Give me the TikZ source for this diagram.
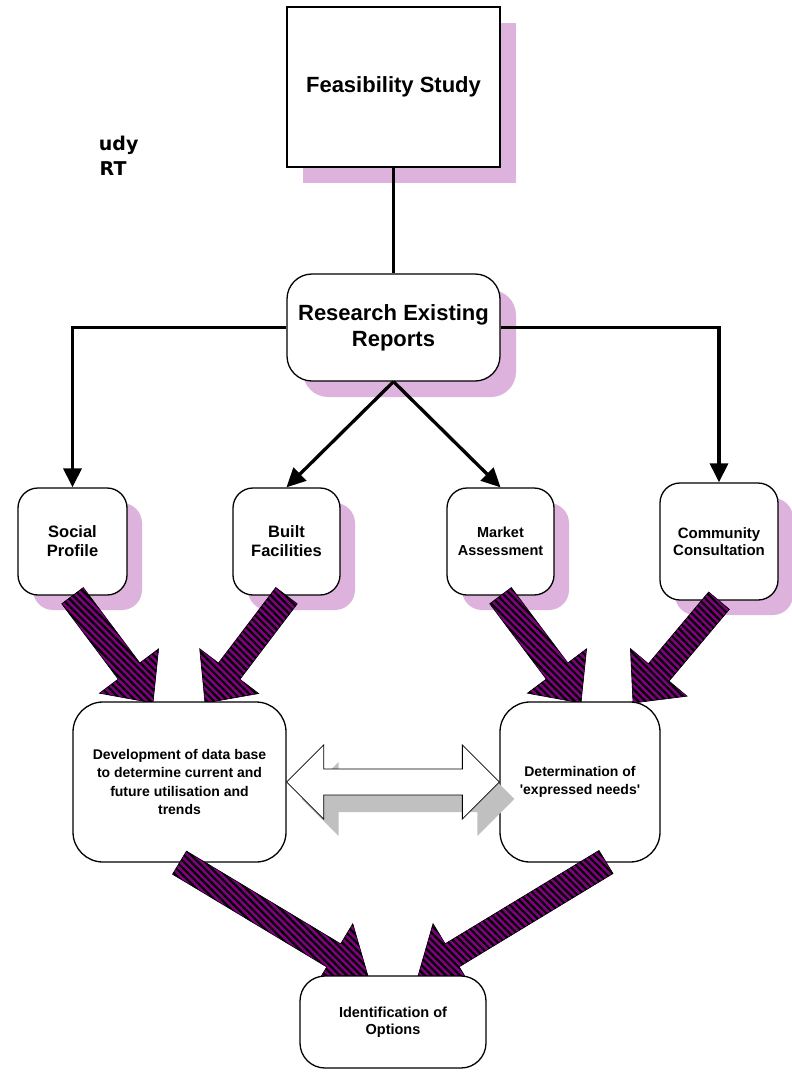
\documentclass[tikz,border=0pt]{standalone}
\usepackage{fontspec}
\setmainfont{Liberation Sans}
\newfontfamily\fragfont{DejaVu Sans}
\usepackage{tikz}
\usetikzlibrary{arrows.meta, calc, shadows, patterns.meta}
\definecolor{stripepurple}{HTML}{800080}
\definecolor{shadowpink}{HTML}{DDB3DD}
\definecolor{shadowgray}{HTML}{C0C0C0}

% wide striped block arrow from #1 to tip #2
\newcommand{\stripearrow}[2]{%
  \coordinate (sa-h) at ($(#2)!40pt!(#1)$);
  \draw[stripefill] ($(#1)!13.5pt!90:(#2)$) -- ($(sa-h)!13.5pt!90:(#2)$) -- ($(sa-h)!37pt!90:(#2)$) -- (#2)
    -- ($(sa-h)!37pt!-90:(#2)$) -- ($(sa-h)!13.5pt!-90:(#2)$) -- ($(#1)!13.5pt!-90:(#2)$) -- cycle;}

\begin{document}
\begin{tikzpicture}[x=1pt, y=-1pt,
  box/.style={draw, line width=1.3pt, fill=white, inner sep=2pt, align=center},
  roundbox/.style={box, rounded corners=#1}, roundbox/.default=20pt,
  pinkshadow/.style={general shadow={fill=shadowpink, shadow xshift=#1, shadow yshift=-#1}},
  feed/.style={line width=3.3pt},
  feedtip/.style={feed, -{Triangle[length=19pt, width=18pt]}},
  stripefill/.style={draw=black, line width=0.6pt, preaction={fill=stripepurple},
    pattern={Lines[angle=-45, distance=5pt, line width=2.2pt]}, pattern color=black},
  blockarrow/.style={draw, line width=0.8pt, fill=white,
    general shadow={fill=shadowgray, shadow xshift=15pt, shadow yshift=-17pt}}]
  \useasboundingbox (0,0) rectangle (792,1074);

  % cut-off heading at the left
  \node[font=\fragfont\bfseries\fontsize{19}{22}\selectfont, anchor=base east] (fragstudy) at (142,150) {udy};
  \node[font=\fragfont\bfseries\fontsize{19}{22}\selectfont, anchor=base east] (fragreport) at (130,175) {RT};

  % Top boxes
  \node[box, pinkshadow=16pt, minimum width=213pt, minimum height=160pt, font=\bfseries\fontsize{22}{26}\selectfont] (feas) at (393.5,87) {Feasibility Study};
  \node[roundbox=25pt, pinkshadow=16pt, minimum width=213pt, minimum height=107pt, font=\bfseries\fontsize{22}{26}\selectfont] (research) at (393.5,327.5) {Research Existing\\Reports};

  % Research areas
  \node[roundbox, pinkshadow=15pt, minimum width=109pt, minimum height=107pt, font=\bfseries\fontsize{16.5}{19}\selectfont] (social) at (72.5,541.5) {Social\\Profile};
  \node[roundbox, pinkshadow=15pt, minimum width=107pt, minimum height=107pt, font=\bfseries\fontsize{16.5}{19}\selectfont] (built) at (286.5,541.5) {Built\\Facilities};
  \node[roundbox, pinkshadow=15pt, minimum width=107pt, minimum height=107pt, font=\bfseries\fontsize{14.5}{17.5}\selectfont] (market) at (500.5,541.5) {Market\\Assessment};
  \node[roundbox, pinkshadow=15pt, minimum width=118pt, minimum height=117pt, font=\bfseries\fontsize{15}{17.7}\selectfont] (community) at (719,541.5) {Community\\Consultation};

  % Research links
  \draw[feed] (feas.south) -- (research.north);
  \draw[feedtip] (research.west) -| (social.north);
  \draw[feedtip] (research.east) -| (community.north);
  \draw[feedtip] (research.south) -- (built.north);
  \draw[feedtip] (research.south) -- (market.north);

  % Striped arrows into the analysis boxes
  \coordinate (sp-tip) at (153,703);
  \coordinate (bf-tip) at (205,703);
  \coordinate (ma-tip) at (581,703);
  \coordinate (cc-tip) at (633,703);
  \stripearrow{social.south}{sp-tip}
  \stripearrow{built.south}{bf-tip}
  \stripearrow{market.south}{ma-tip}
  \stripearrow{community.south}{cc-tip}

  % Analysis boxes
  \node[roundbox=30pt, minimum width=213pt, minimum height=160pt, font=\bfseries\fontsize{14}{18.3}\selectfont] (dev) at (179.5,782) {Development of data base\\to determine current and\\future utilisation and\\trends};
  \node[roundbox=30pt, minimum width=160pt, minimum height=160pt, font=\bfseries\fontsize{14}{18.3}\selectfont] (det) at (580,782) {Determination of\\\textquotesingle expressed needs\textquotesingle};

  % Striped arrows into the options box
  \coordinate (det-tail) at (606,862);
  \coordinate (dev-tip) at (368,976);
  \coordinate (det-tip) at (418,976);
  \stripearrow{dev.south}{dev-tip}
  \stripearrow{det-tail}{det-tip}

  \node[roundbox=25pt, minimum width=186pt, minimum height=92pt, font=\bfseries\fontsize{14.5}{16.7}\selectfont] (ident) at (393,1022) {Identification of\\Options};

  % Two-way block arrow
  \draw[blockarrow] (dev.east) -- ++(37,-37) -- ++(0,24) -- ($(det.west)+(-37,-13)$) -- ++(0,-24) -- (det.west)
    -- ++(-37,37) -- ++(0,-24) -- ($(dev.east)+(37,13)$) -- ++(0,24) -- cycle;
\end{tikzpicture}
\end{document}
